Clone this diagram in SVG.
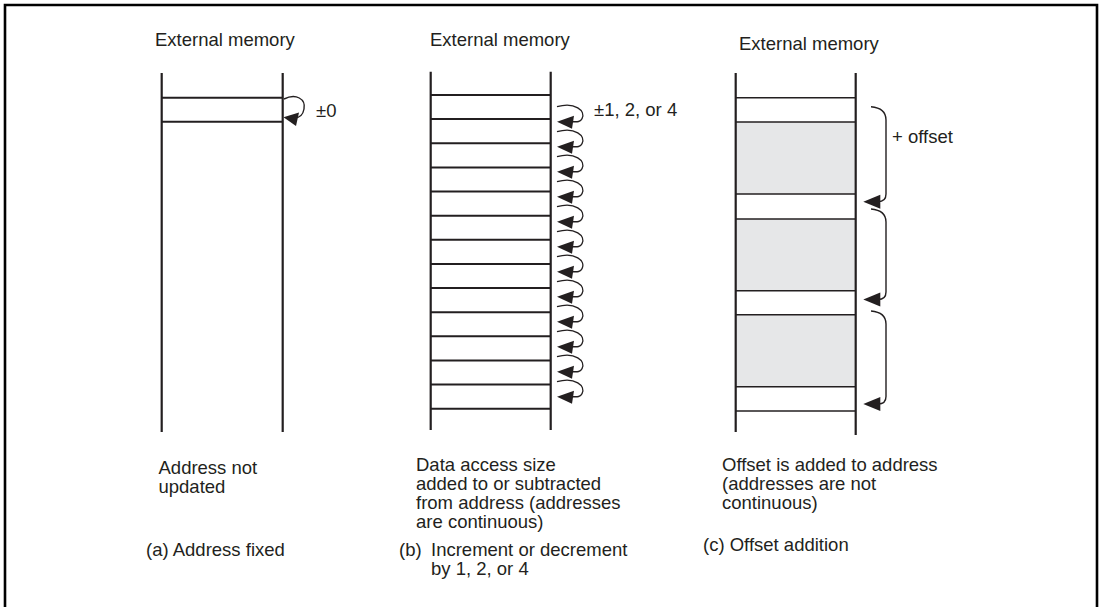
<svg xmlns="http://www.w3.org/2000/svg" width="1102" height="607" viewBox="0 0 1102 607">
<defs>
<style>
.t{font-family:"Liberation Sans",Arial,sans-serif;font-size:18.5px;fill:#231f20}
.v{stroke:#231f20;stroke-width:2.2;fill:none}
.h{stroke:#231f20;stroke-width:2;fill:none}
.hc{stroke:#231f20;stroke-width:1.6;fill:none}
.c{stroke:#231f20;stroke-width:1.4;fill:none}
.ah{fill:#231f20}
.g{fill:#e6e7e8}
</style>
<polygon id="ahb" class="ah" points="0,0 17,-6 15,7"/>
<polygon id="ahc" class="ah" points="0,0 17,-7 17,7"/>
<path id="loop" class="c" d="M0,-15 C18,-20 29,-11 25,-3 C23,1 19,0 14,0"/>
</defs>
<rect width="1102" height="607" fill="#fff"/>
<path d="M5,607 L5,5 L1097,5 L1097,607" stroke="#000" stroke-width="2.6" fill="none"/>

<g id="panel-a">
<text class="t" x="155" y="46">External memory</text>
<line class="v" x1="161.7" y1="73" x2="161.7" y2="432"/>
<line class="v" x1="282.7" y1="73" x2="282.7" y2="432"/>
<line class="h" x1="161.7" y1="97.7" x2="282.7" y2="97.7"/>
<line class="h" x1="161.7" y1="121.7" x2="282.7" y2="121.7"/>
<text class="t" x="316" y="117">±0</text>
<text class="t" x="158.5" y="474">Address not</text>
<text class="t" x="158.5" y="493">updated</text>
<text class="t" x="146" y="556">(a) Address fixed</text>
</g>

<g id="panel-b">
<text class="t" x="430" y="46">External memory</text>
<g class="h">
<line x1="430.7" y1="95" x2="550.7" y2="95"/>
<line x1="430.7" y1="119.1" x2="550.7" y2="119.1"/>
<line x1="430.7" y1="143.3" x2="550.7" y2="143.3"/>
<line x1="430.7" y1="167.4" x2="550.7" y2="167.4"/>
<line x1="430.7" y1="191.5" x2="550.7" y2="191.5"/>
<line x1="430.7" y1="215.7" x2="550.7" y2="215.7"/>
<line x1="430.7" y1="239.8" x2="550.7" y2="239.8"/>
<line x1="430.7" y1="263.9" x2="550.7" y2="263.9"/>
<line x1="430.7" y1="288" x2="550.7" y2="288"/>
<line x1="430.7" y1="312.2" x2="550.7" y2="312.2"/>
<line x1="430.7" y1="336.3" x2="550.7" y2="336.3"/>
<line x1="430.7" y1="360.4" x2="550.7" y2="360.4"/>
<line x1="430.7" y1="384.6" x2="550.7" y2="384.6"/>
<line x1="430.7" y1="408.7" x2="550.7" y2="408.7"/>
</g>
<line class="v" x1="430.7" y1="71.7" x2="430.7" y2="430"/>
<line class="v" x1="550.7" y1="71.7" x2="550.7" y2="430"/>
<text class="t" x="594" y="116">±1, 2, or 4</text>
<text class="t" x="416" y="471">Data access size</text>
<text class="t" x="416" y="490">added to or subtracted</text>
<text class="t" x="416" y="509">from address (addresses</text>
<text class="t" x="416" y="528">are continuous)</text>
<text class="t" x="399" y="556">(b)</text>
<text class="t" x="431" y="556">Increment or decrement</text>
<text class="t" x="431" y="575">by 1, 2, or 4</text>
</g>

<g id="panel-c">
<text class="t" x="739" y="50">External memory</text>
<rect class="g" x="735.7" y="122" width="120" height="72"/>
<rect class="g" x="735.7" y="219" width="120" height="71.7"/>
<rect class="g" x="735.7" y="314.7" width="120" height="72"/>
<g class="hc">
<line x1="735.7" y1="97.7" x2="855.7" y2="97.7"/>
<line x1="735.7" y1="122" x2="855.7" y2="122"/>
<line x1="735.7" y1="194" x2="855.7" y2="194"/>
<line x1="735.7" y1="219" x2="855.7" y2="219"/>
<line x1="735.7" y1="290.7" x2="855.7" y2="290.7"/>
<line x1="735.7" y1="314.7" x2="855.7" y2="314.7"/>
<line x1="735.7" y1="386.7" x2="855.7" y2="386.7"/>
<line x1="735.7" y1="411" x2="855.7" y2="411"/>
</g>
<line class="v" x1="735.7" y1="73" x2="735.7" y2="432"/>
<line class="v" x1="855.7" y1="73" x2="855.7" y2="435"/>
<text class="t" x="892" y="143">+ offset</text>
<text class="t" x="722" y="471">Offset is added to address</text>
<text class="t" x="722" y="490">(addresses are not</text>
<text class="t" x="722" y="509">continuous)</text>
<text class="t" x="703" y="551">(c) Offset addition</text>
</g>

<g id="connectors">
<path class="c" d="M284,99 C296,93 306,99 304,109 C303,115 299,118 294,118"/>
<polygon class="ah" points="283.5,117.3 299,112.5 296,126"/>
<g transform="translate(557,121.7)"><use href="#loop"/><use href="#ahb"/></g>
<g transform="translate(557,146.7)"><use href="#loop"/><use href="#ahb"/></g>
<g transform="translate(557,171.7)"><use href="#loop"/><use href="#ahb"/></g>
<g transform="translate(557,196.7)"><use href="#loop"/><use href="#ahb"/></g>
<g transform="translate(557,221.7)"><use href="#loop"/><use href="#ahb"/></g>
<g transform="translate(557,246.7)"><use href="#loop"/><use href="#ahb"/></g>
<g transform="translate(557,271.7)"><use href="#loop"/><use href="#ahb"/></g>
<g transform="translate(557,296.7)"><use href="#loop"/><use href="#ahb"/></g>
<g transform="translate(557,321.7)"><use href="#loop"/><use href="#ahb"/></g>
<g transform="translate(557,346.7)"><use href="#loop"/><use href="#ahb"/></g>
<g transform="translate(557,371.7)"><use href="#loop"/><use href="#ahb"/></g>
<g transform="translate(557,396.7)"><use href="#loop"/><use href="#ahb"/></g>
<path class="c" d="M871,106.7 C880,107.5 886,111 886,120 L886,194 C886,199 884,201.7 878,201.7"/>
<use href="#ahc" x="863.3" y="201.7"/>
<path class="c" d="M871,209 C880,209.8 886,213 886,222 L886,292 C886,297 884,299.5 878,299.5"/>
<use href="#ahc" x="863.3" y="299.5"/>
<path class="c" d="M871,311 C880,311.8 886,315 886,324 L886,396.5 C886,401.5 884,404 878,404"/>
<use href="#ahc" x="863.3" y="404"/>
</g>
</svg>
